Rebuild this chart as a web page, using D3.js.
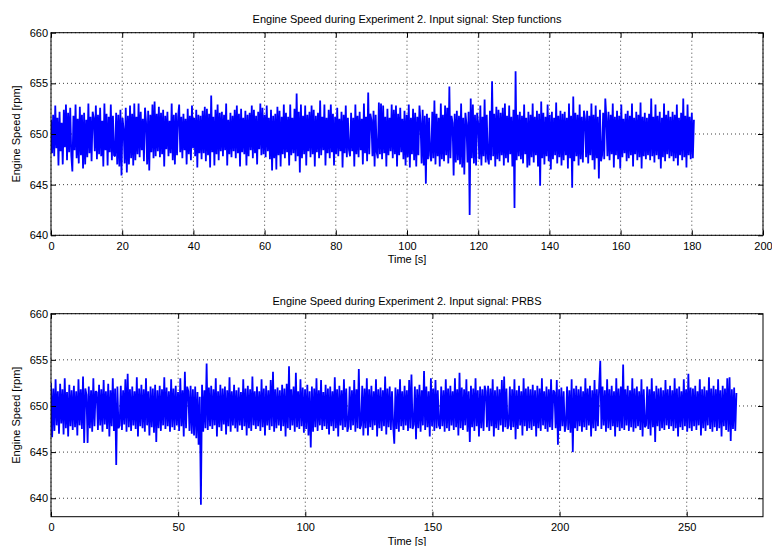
<!DOCTYPE html>
<html>
<head>
<meta charset="utf-8">
<script src="https://cdn.jsdelivr.net/npm/d3@7.9.0/dist/d3.min.js"></script>
<style>
  html, body { margin: 0; padding: 0; background: #fff; }
  svg { display: block; font-family: "Liberation Sans", Arial, Helvetica, sans-serif; }
  .grid line { stroke: #000; stroke-width: 1; stroke-dasharray: 1,3; opacity: 0.75; }
</style>
</head>
<body>
<svg width="772" height="546"></svg>
<script>
const stepTitle = 'Engine Speed during Experiment 2. Input signal: Step functions';
const prbsTitle = 'Engine Speed during Experiment 2. Input signal: PRBS';
const xLabel = 'Time [s]';
const yLabel = 'Engine Speed [rpm]';

const stepTicksX = [0, 20, 40, 60, 80, 100, 120, 140, 160, 180, 200];
const prbsTicksX = [0, 50, 100, 150, 200, 250];
const speedTicks = [640, 645, 650, 655, 660];

// samples every 0.3 s (step experiment), rpm
const stepDt = 0.3;
const stepSpeed = [
  651.4, 648.1, 651.9, 647.8, 652.8, 648.6, 651.6, 646.9, 652.2, 648.3, 651.1, 647.0, 652.4, 648.7, 652.9, 647.4, 652.1, 648.2, 652.6, 647.9,
  646.3, 651.8, 648.4, 652.9, 647.6, 651.5, 647.1, 652.7, 647.9, 651.9, 646.6, 652.1, 647.0, 651.4, 647.7, 653.0, 648.1, 651.7, 647.3, 652.2,
  651.6, 648.3, 652.8, 647.5, 651.9, 648.0, 652.6, 647.8, 651.3, 646.8, 653.0, 648.4, 652.0, 646.9, 651.7, 648.2, 652.9, 647.4, 651.8, 647.9,
  647.8, 652.1, 647.0, 651.9, 646.8, 652.4, 645.9, 651.6, 650.4, 647.1, 652.6, 646.2, 651.8, 647.0, 652.8, 647.6, 652.0, 646.9, 653.0, 647.4,
  651.7, 648.0, 653.0, 647.7, 652.2, 648.4, 651.5, 647.3, 652.6, 651.2, 647.0, 652.3, 646.4, 651.9, 648.2, 652.9, 647.6, 653.2, 647.8, 652.0,
  648.3, 652.7, 647.7, 652.1, 648.0, 652.4, 646.8, 651.8, 648.5, 652.2, 647.8, 651.3, 648.1, 653.0, 647.4, 651.9, 647.0, 652.1, 647.9, 651.7,
  652.9, 648.2, 651.7, 647.6, 652.0, 648.4, 651.5, 647.0, 652.5, 648.0, 651.8, 647.4, 652.8, 648.6, 651.6, 647.8, 652.4, 646.7, 651.9, 648.1,
  651.8, 647.5, 652.3, 648.1, 652.7, 647.3, 652.5, 647.9, 652.0, 646.7, 653.8, 648.2, 651.7, 646.9, 652.4, 648.0, 652.9, 647.4, 652.1, 648.3,
  652.2, 647.8, 651.9, 648.4, 653.0, 646.9, 651.4, 648.0, 652.1, 647.7, 651.8, 648.3, 652.4, 647.6, 652.8, 648.1, 652.0, 646.8, 652.5, 648.2,
  651.6, 648.0, 652.3, 646.9, 651.9, 647.8, 652.1, 648.4, 652.8, 647.6, 652.4, 648.1, 651.8, 647.0, 652.2, 648.5, 653.0, 647.9, 652.6, 648.0,
  651.9, 647.7, 652.8, 648.3, 651.6, 647.5, 652.4, 646.4, 651.8, 647.6, 652.0, 646.5, 652.7, 647.9, 652.3, 646.8, 651.7, 648.0, 652.9, 647.6,
  652.1, 648.2, 651.7, 646.9, 652.9, 647.9, 651.6, 648.1, 652.5, 647.3, 654.0, 647.8, 652.2, 646.2, 652.9, 647.6, 651.8, 648.0, 652.8, 646.9,
  651.9, 648.3, 652.2, 647.7, 652.8, 648.0, 652.4, 646.8, 651.8, 648.2, 652.1, 647.6, 653.3, 647.9, 651.7, 648.4, 652.9, 646.9, 651.6, 648.1,
  652.4, 647.6, 652.9, 648.2, 652.0, 646.9, 651.7, 648.0, 652.6, 647.8, 651.5, 648.3, 652.2, 646.7, 651.9, 648.1, 652.8, 647.7, 651.6, 648.4,
  647.8, 652.1, 648.3, 651.6, 646.8, 652.9, 648.0, 651.8, 647.7, 652.2, 648.4, 651.5, 647.0, 653.0, 648.1, 651.7, 647.3, 654.1, 648.0, 652.0,
  651.4, 647.8, 652.3, 646.8, 651.9, 648.2, 647.6, 653.1, 648.0, 653.0, 647.5, 652.8, 648.1, 651.7, 646.8, 652.5, 647.9, 651.6, 648.3, 652.9,
  647.6, 652.4, 648.0, 652.8, 646.8, 652.0, 647.9, 652.6, 648.2, 651.5, 647.5, 652.3, 646.9, 651.9, 647.7, 652.9, 646.7, 651.6, 648.0, 652.5,
  647.4, 652.1, 646.8, 651.7, 647.9, 652.8, 651.2, 647.1, 652.4, 646.9, 651.8, 645.1, 652.0, 647.5, 651.6, 647.9, 647.3, 652.2, 647.6, 653.3,
  647.0, 652.0, 647.8, 651.6, 646.8, 653.0, 647.5, 651.9, 647.3, 652.8, 647.9, 652.6, 647.1, 654.7, 647.6, 651.8, 651.1, 645.9, 652.0, 647.2,
  652.3, 647.4, 651.8, 647.0, 653.0, 646.7, 651.6, 646.0, 652.1, 651.0, 647.2, 652.2, 642.0, 653.5, 647.6, 652.9, 647.1, 651.9, 646.9, 652.1,
  651.0, 647.5, 652.8, 646.9, 651.7, 647.8, 653.4, 647.2, 651.9, 647.6, 647.0, 652.3, 647.4, 655.2, 647.8, 652.0, 646.8, 652.7, 647.5, 652.4,
  647.3, 652.1, 647.9, 652.6, 646.9, 653.0, 647.6, 651.8, 647.2, 652.8, 648.0, 651.7, 646.8, 652.4, 642.7, 656.2, 647.4, 651.9, 647.8, 652.2,
  647.5, 651.8, 647.1, 652.9, 648.0, 651.6, 646.7, 652.2, 646.9, 651.9, 647.7, 653.0, 647.2, 651.7, 647.9, 652.3, 646.8, 652.0, 644.9, 653.2,
  647.6, 652.1, 647.0, 651.7, 647.8, 652.9, 647.3, 651.9, 646.5, 652.2, 647.5, 651.6, 647.9, 653.1, 647.1, 651.8, 647.7, 652.3, 646.9, 652.0,
  647.4, 652.2, 647.9, 651.6, 646.6, 653.0, 647.6, 651.8, 644.7, 653.7, 647.3, 652.1, 647.8, 651.9, 646.9, 652.9, 647.5, 651.7, 647.2, 652.3,
  651.5, 647.7, 652.3, 647.1, 651.8, 647.9, 653.0, 647.4, 651.9, 646.5, 652.8, 647.6, 651.7, 645.6, 652.4, 647.3, 647.9, 652.1, 647.5, 653.5,
  651.6, 647.8, 652.2, 647.4, 651.9, 648.0, 653.0, 646.7, 651.7, 647.9, 652.3, 647.5, 651.8, 646.6, 652.9, 647.7, 651.5, 648.1, 652.0, 647.3,
  652.3, 647.6, 651.8, 647.9, 653.0, 646.8, 651.6, 648.0, 652.2, 647.4, 651.9, 647.7, 653.1, 646.6, 651.7, 647.8, 652.1, 647.5, 651.6, 647.9,
  652.0, 647.4, 653.5, 647.8, 651.7, 647.2, 652.9, 647.9, 651.8, 647.5, 652.2, 646.6, 651.6, 647.7, 653.0, 647.3, 651.9, 648.0, 652.3, 647.6,
  651.7, 647.8, 652.2, 647.3, 651.9, 647.6, 652.9, 646.9, 651.6, 647.9, 652.1, 647.4, 653.5, 647.7, 651.8, 646.7, 652.9, 647.9, 651.7, 647.5,
  652.1, 647.6, 651.4
];

// samples every 0.45 s (PRBS experiment), rpm
const prbsDt = 0.45;
const prbsSpeed = [
  652.5, 646.6, 651.9, 647.3, 652.9, 647.9, 651.6, 647.0, 652.4, 648.1, 651.8, 646.9, 653.0, 647.6, 651.5, 646.7, 652.3, 647.8, 651.7, 647.4,
  652.2, 647.7, 651.6, 646.8, 652.9, 647.9, 651.8, 647.5, 653.2, 646.0, 651.9, 651.2, 646.0, 652.1, 647.6, 651.7, 647.2, 653.0, 647.8, 651.6,
  651.5, 647.4, 652.3, 647.9, 651.8, 647.2, 652.8, 648.0, 651.6, 647.5, 652.4, 646.7, 651.7, 647.8, 653.0, 647.3, 651.9, 643.6, 652.1, 647.6,
  647.9, 652.2, 647.4, 651.7, 648.0, 652.9, 647.2, 653.5, 647.7, 651.8, 647.3, 652.1, 647.9, 651.6, 647.5, 653.1, 646.7, 651.9, 647.8, 652.3,
  647.6, 651.8, 647.2, 653.0, 647.9, 651.6, 646.8, 652.1, 647.7, 651.9, 647.1, 652.3, 646.1, 651.7, 647.6, 652.2, 647.3, 651.8, 647.9, 653.1,
  647.5, 652.0, 647.8, 651.6, 647.2, 652.9, 647.7, 651.9, 647.4, 652.2, 647.9, 651.5, 647.3, 653.0, 647.8, 651.7, 646.7, 653.7, 647.6, 652.1,
  651.6, 647.3, 652.2, 647.0, 651.8, 646.8, 652.1, 646.5, 651.5, 645.8, 651.0, 639.3, 652.3, 647.2, 651.7, 647.6, 654.6, 647.4, 652.0, 647.8,
  652.2, 647.5, 651.8, 647.9, 653.0, 646.7, 651.6, 647.7, 652.3, 647.3, 651.9, 648.0, 652.1, 646.9, 651.7, 647.8, 653.1, 647.2, 651.6, 647.9,
  652.3, 647.6, 651.7, 647.2, 652.0, 647.9, 651.5, 647.4, 652.9, 647.8, 651.9, 646.8, 652.2, 647.6, 651.8, 647.3, 653.2, 647.9, 651.6, 647.5,
  652.1, 647.8, 651.6, 647.3, 652.9, 647.7, 651.9, 646.8, 652.2, 647.9, 651.7, 647.4, 652.8, 647.8, 653.7, 647.2, 651.8, 647.6, 652.0, 647.9,
  651.7, 647.3, 652.3, 647.8, 651.9, 646.7, 652.4, 647.6, 654.3, 647.4, 651.8, 647.9, 652.1, 647.2, 653.6, 647.7, 651.6, 647.5, 652.9, 647.8,
  652.0, 647.1, 651.8, 647.5, 652.3, 646.8, 651.6, 645.5, 652.1, 647.2, 651.9, 647.7, 653.0, 647.3, 651.7, 647.9, 652.8, 647.4, 651.5, 647.8,
  652.3, 647.5, 651.9, 646.9, 652.1, 647.8, 651.6, 647.3, 653.1, 647.6, 651.8, 646.7, 652.2, 647.9, 651.7, 647.4, 652.9, 647.7, 651.9, 647.2,
  647.8, 652.1, 647.4, 651.7, 647.9, 652.8, 647.2, 651.8, 647.6, 654.0, 647.5, 647.9, 652.2, 646.8, 651.9, 647.6, 653.0, 646.8, 651.8, 647.7,
  652.2, 647.4, 651.6, 647.9, 652.9, 646.7, 651.8, 647.6, 652.0, 647.3, 651.7, 647.8, 653.2, 646.9, 651.9, 647.7, 652.1, 647.4, 651.6, 647.9,
  645.9, 652.0, 647.5, 651.8, 647.2, 652.9, 647.8, 651.6, 647.4, 652.2, 647.9, 651.7, 647.3, 652.8, 647.6, 653.4, 647.5, 648.0, 652.1, 646.4,
  651.8, 647.6, 652.3, 647.2, 651.7, 647.9, 653.8, 647.4, 652.1, 647.7, 651.6, 646.7, 653.0, 647.8, 651.9, 647.3, 652.8, 647.6, 651.7, 647.9,
  647.5, 652.1, 647.8, 651.7, 647.2, 652.9, 647.6, 651.9, 647.3, 652.2, 647.9, 651.6, 647.4, 653.0, 647.7, 651.8, 646.8, 653.6, 647.6, 652.0,
  647.4, 651.8, 647.9, 652.9, 647.2, 651.6, 646.1, 652.2, 647.7, 651.9, 647.3, 653.0, 647.8, 651.7, 646.7, 652.1, 647.6, 651.8, 647.3, 652.2,
  651.6, 647.7, 652.2, 647.3, 651.9, 647.8, 652.9, 646.7, 651.7, 647.6, 652.1, 647.4, 651.8, 647.9, 652.8, 647.2, 653.2, 647.7, 651.9, 647.5,
  647.9, 652.1, 647.4, 651.8, 647.7, 652.9, 646.4, 651.7, 647.5, 652.2, 647.9, 651.6, 646.8, 653.0, 647.8, 651.9, 647.3, 652.1, 647.6, 651.8,
  647.4, 652.3, 647.8, 651.7, 646.7, 652.2, 647.6, 651.9, 647.3, 653.0, 647.9, 651.6, 647.5, 652.1, 647.2, 651.8, 647.7, 652.9, 647.4, 651.7,
  651.5, 647.6, 652.8, 645.8, 651.8, 647.3, 652.0, 647.8, 651.6, 647.2, 647.9, 652.1, 647.4, 651.7, 647.1, 652.9, 645.0, 651.9, 647.6, 652.2,
  647.3, 651.8, 647.8, 652.1, 647.2, 651.6, 647.7, 653.0, 647.4, 651.9, 647.9, 652.2, 646.7, 651.7, 647.6, 652.8, 647.3, 651.8, 647.8, 652.0,
  654.9, 647.5, 652.1, 647.9, 651.7, 647.2, 652.9, 647.6, 651.8, 647.4, 652.2, 647.8, 651.6, 646.7, 653.0, 647.7, 651.9, 647.3, 652.1, 647.6,
  654.5, 647.4, 651.8, 647.9, 652.2, 647.3, 651.7, 647.7, 653.0, 647.2, 651.9, 647.6, 652.1, 647.8, 651.6, 647.4, 652.9, 646.7, 651.8, 647.7,
  647.9, 652.1, 647.5, 651.8, 646.8, 653.0, 647.7, 651.6, 646.1, 652.2, 647.8, 651.9, 647.3, 652.0, 647.6, 651.7, 647.4, 652.8, 647.9, 651.8,
  647.5, 652.2, 647.8, 651.7, 647.3, 653.0, 647.6, 651.9, 646.7, 652.1, 647.7, 651.6, 647.4, 652.9, 647.8, 651.8, 647.2, 653.5, 647.6, 652.0,
  647.3, 651.9, 647.8, 652.2, 647.4, 651.6, 647.9, 652.9, 646.8, 651.8, 647.6, 652.1, 647.3, 651.7, 647.9, 653.1, 647.5, 651.9, 647.2, 652.2,
  647.7, 651.8, 647.3, 652.9, 647.6, 651.7, 646.7, 652.2, 647.8, 651.9, 647.4, 653.0, 647.2, 653.1, 646.2, 651.8, 647.5, 652.0, 647.3, 651.4
];

const svg = d3.select('svg');

function drawPanel(cfg, idx) {
  let { top, bottom, left, right } = cfg.box;
  let x = d3.scaleLinear().domain(cfg.xDomain).range([left, right]);
  let y = d3.scaleLinear().domain(cfg.yDomain).range([bottom, top]);
  let g = svg.append('g');

  g.append('clipPath')
    .attr('id', 'clip' + idx)
    .append('rect')
    .attr('x', left)
    .attr('y', top)
    .attr('width', right - left)
    .attr('height', bottom - top);

  // dotted grid
  let grid = g.append('g').attr('class', 'grid');
  cfg.xTicks.forEach((t) => {
    grid.append('line').attr('x1', x(t)).attr('x2', x(t)).attr('y1', top).attr('y2', bottom);
  });
  cfg.yTicks.forEach((t) => {
    grid.append('line').attr('x1', left).attr('x2', right).attr('y1', y(t)).attr('y2', y(t));
  });

  let line = d3
    .line()
    .x((d, i) => x(i * cfg.dt))
    .y((d) => y(d));

  g.append('path')
    .datum(cfg.values)
    .attr('clip-path', `url(#clip${idx})`)
    .attr('fill', 'none')
    .attr('stroke', '#0000ff')
    .attr('stroke-width', 1.8)
    .attr('stroke-linejoin', 'bevel')
    .attr('d', line);

  let styleAxis = (a) => {
    a.select('.domain').remove();
    a.attr('font-size', 11).attr('font-family', null);
    a.selectAll('line').attr('stroke', '#000');
    a.selectAll('text').attr('fill', '#000');
  };

  g.append('g')
    .attr('transform', `translate(0,${bottom})`)
    .call(d3.axisBottom(x).tickValues(cfg.xTicks).tickSizeInner(-5).tickSizeOuter(0).tickPadding(7))
    .call(styleAxis);
  g.append('g')
    .attr('transform', `translate(0,${top})`)
    .call(d3.axisTop(x).tickValues(cfg.xTicks).tickSizeInner(-5).tickSizeOuter(0).tickFormat(''))
    .call(styleAxis);
  g.append('g')
    .attr('transform', `translate(${left},0)`)
    .call(d3.axisLeft(y).tickValues(cfg.yTicks).tickSizeInner(-5).tickSizeOuter(0).tickPadding(3))
    .call(styleAxis);
  g.append('g')
    .attr('transform', `translate(${right},0)`)
    .call(d3.axisRight(y).tickValues(cfg.yTicks).tickSizeInner(-5).tickSizeOuter(0).tickFormat(''))
    .call(styleAxis);

  g.append('rect')
    .attr('x', left)
    .attr('y', top)
    .attr('width', right - left)
    .attr('height', bottom - top)
    .attr('fill', 'none')
    .attr('stroke', '#000')
    .attr('stroke-width', 1);

  g.append('text')
    .attr('x', (left + right) / 2)
    .attr('y', cfg.titleY)
    .attr('text-anchor', 'middle')
    .attr('font-size', 11)
    .text(cfg.title);

  g.append('text')
    .attr('x', (left + right) / 2)
    .attr('y', cfg.xLabelY)
    .attr('text-anchor', 'middle')
    .attr('font-size', 11)
    .text(xLabel);

  g.append('text')
    .attr('transform', `translate(19.5,${(top + bottom) / 2}) rotate(-90)`)
    .attr('text-anchor', 'middle')
    .attr('font-size', 11)
    .text(yLabel);
}

drawPanel({
  box: { top: 32.7, bottom: 235.3, left: 51, right: 763 },
  xDomain: [0, 200],
  yDomain: [640, 660],
  xTicks: stepTicksX,
  yTicks: speedTicks,
  dt: stepDt,
  values: stepSpeed,
  title: stepTitle,
  titleY: 23,
  xLabelY: 263,
}, 0);

drawPanel({
  box: { top: 313.7, bottom: 516.7, left: 51, right: 763 },
  xDomain: [0, 280],
  yDomain: [638, 660],
  xTicks: prbsTicksX,
  yTicks: speedTicks,
  dt: prbsDt,
  values: prbsSpeed,
  title: prbsTitle,
  titleY: 304.6,
  xLabelY: 544.6,
}, 1);
</script>
</body>
</html>
